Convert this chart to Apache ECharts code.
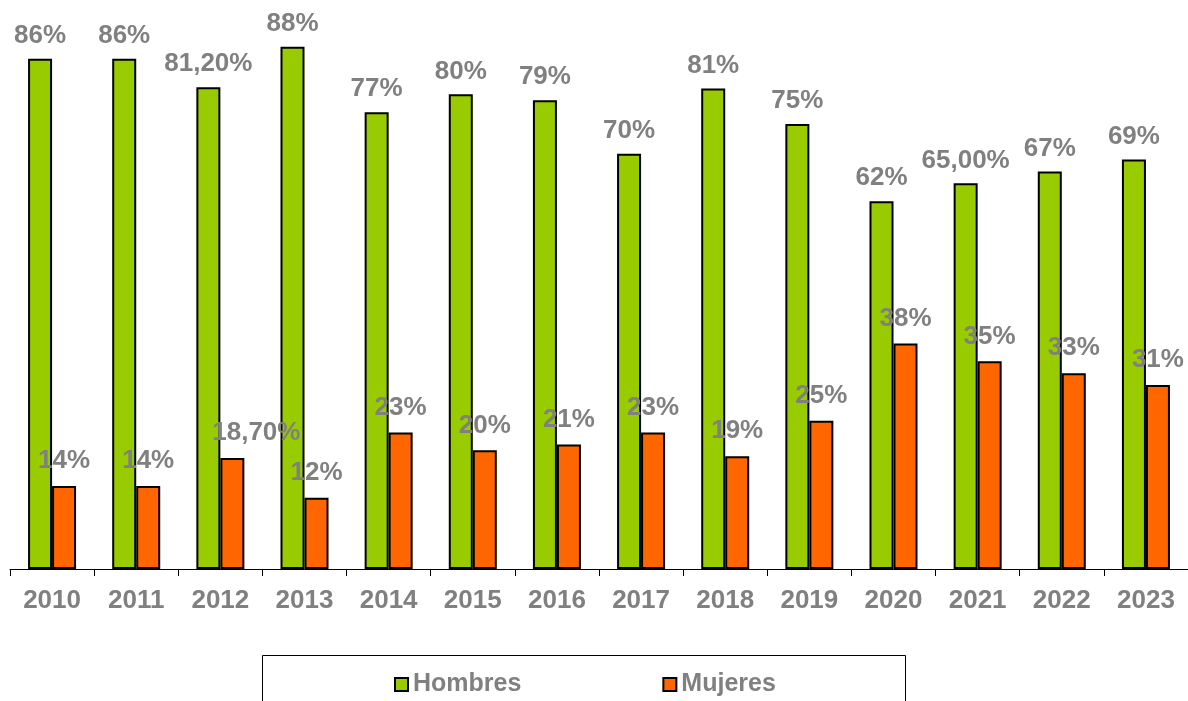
<!DOCTYPE html>
<html>
<head>
<meta charset="utf-8">
<script src="https://cdn.jsdelivr.net/npm/echarts@6/dist/echarts.min.js"></script>
<style>
  html, body { margin: 0; padding: 0; background: #fff; }
  #chart { width: 1188px; height: 701px; }
</style>
</head>
<body>
<div id="chart"></div>
<script>
const years = ['2010', '2011', '2012', '2013', '2014', '2015', '2016', '2017', '2018', '2019', '2020', '2021', '2022', '2023']
const hombres = [86, 86, 81.2, 88, 77, 80, 79, 70, 81, 75, 62, 65, 67, 69]
const mujeres = [14, 14, 18.7, 12, 23, 20, 21, 23, 19, 25, 38, 35, 33, 31]
const hombresLabels = ['86%', '86%', '81,20%', '88%', '77%', '80%', '79%', '70%', '81%', '75%', '62%', '65,00%', '67%', '69%']
const mujeresLabels = ['14%', '14%', '18,70%', '12%', '23%', '20%', '21%', '23%', '19%', '25%', '38%', '35%', '33%', '31%']

const labelFont = {
  color: '#808080',
  fontFamily: 'Liberation Sans, Arial, sans-serif',
  fontWeight: 'bold',
  fontSize: 26
}

const chart = echarts.init(document.getElementById('chart'))

const option = {
  animation: false,
  grid: { left: 10, width: 1180, top: 35, height: 534 },
  xAxis: {
    type: 'category',
    data: years,
    axisLine: { lineStyle: { color: '#000', width: 1 } },
    axisTick: { show: true, length: 7, lineStyle: { color: '#000' } },
    axisLabel: { ...labelFont, margin: 19 }
  },
  yAxis: { type: 'value', min: 0, max: 90, show: false, splitLine: { show: false } },
  legend: {
    left: 389,
    top: 667,
    icon: 'rect',
    itemWidth: 13,
    itemHeight: 13,
    itemGap: 141,
    textStyle: { ...labelFont, fontSize: 25 },
    data: ['Hombres', 'Mujeres']
  },
  graphic: [{
    type: 'rect',
    shape: { x: 262.5, y: 655.5, width: 643, height: 60 },
    style: { fill: 'none', stroke: '#000', lineWidth: 1 },
    z: -1
  }],
  series: [
    {
      name: 'Hombres',
      type: 'bar',
      barWidth: 24,
      barGap: '0%',
      itemStyle: { color: '#99CC00', borderColor: '#000', borderWidth: 2 },
      data: hombres,
      label: {
        show: true,
        position: 'top',
        distance: 10,
        ...labelFont,
        formatter: p => hombresLabels[p.dataIndex]
      }
    },
    {
      name: 'Mujeres',
      type: 'bar',
      barWidth: 24,
      itemStyle: { color: '#FF6600', borderColor: '#000', borderWidth: 2 },
      data: mujeres.map((v, i) => i === 2 ? { value: v, label: { offset: [24, 0] } } : v),
      label: {
        show: true,
        position: 'top',
        distance: 12,
        ...labelFont,
        formatter: p => mujeresLabels[p.dataIndex]
      }
    }
  ]
}

chart.setOption(option)
</script>
</body>
</html>
